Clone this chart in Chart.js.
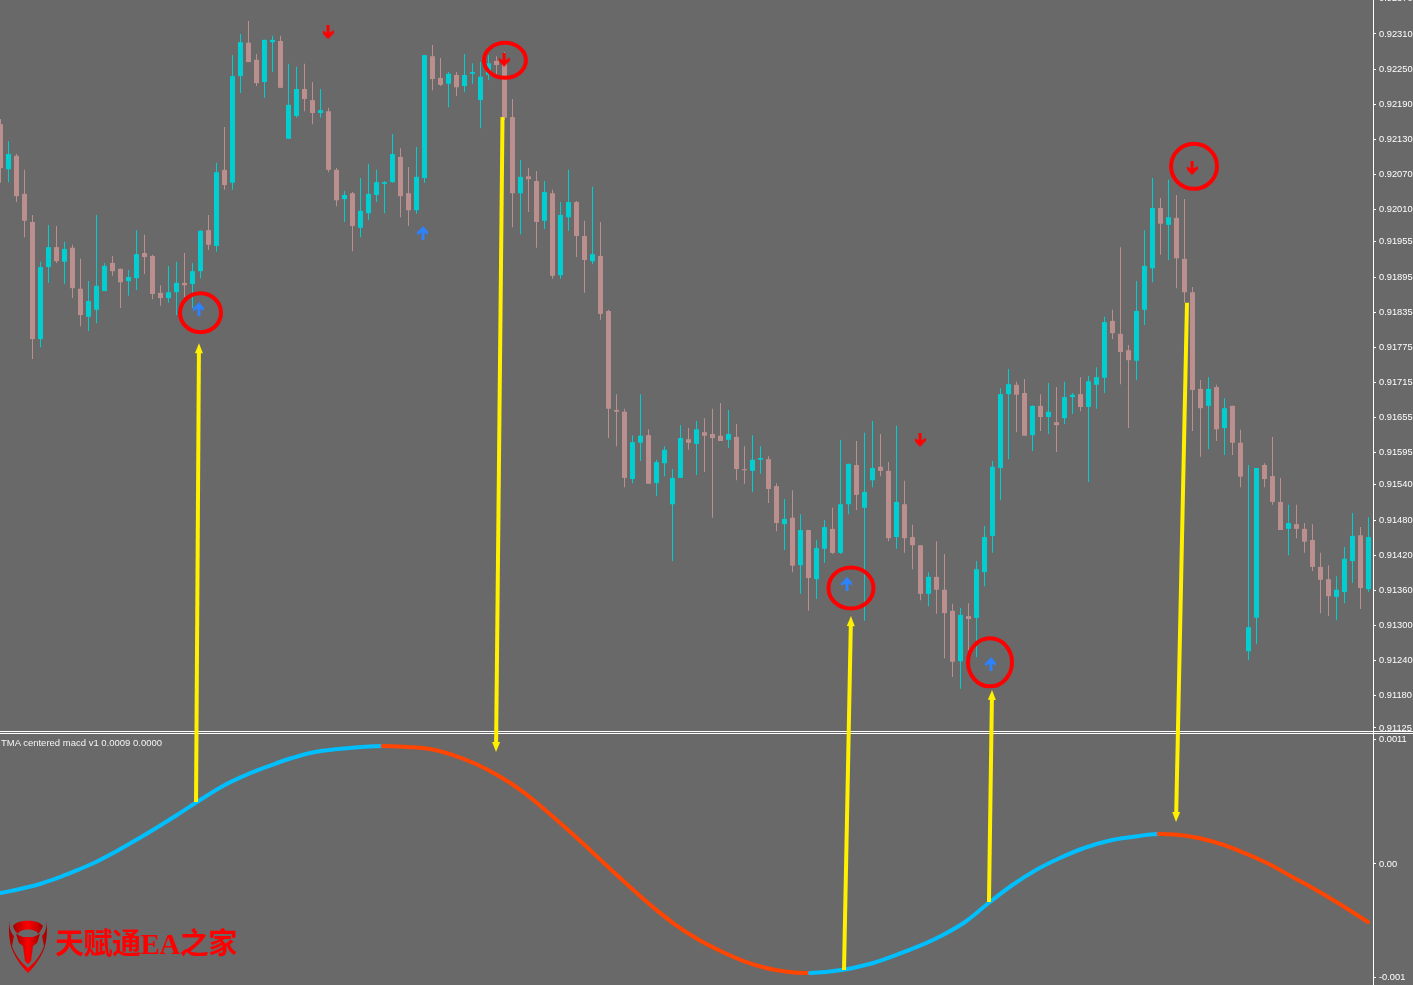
<!DOCTYPE html>
<html lang="zh-CN">
<head>
    <meta charset="UTF-8">
    <title>TMA centered macd</title>
    <script src="https://cdn.jsdelivr.net/npm/chart.js"></script>
    <style>
        html, body { margin: 0; padding: 0; background: #696969; overflow: hidden; }
        #wrap { position: relative; width: 1413px; height: 985px; }
        #indicatorName {
            position: absolute; left: 1px; top: 737px; color: #f4f4f4; white-space: nowrap;
            font: 9.5px "Liberation Sans", sans-serif;
        }
        #brand {
            position: absolute; left: 55px; top: 920px; color: #ff0000; white-space: nowrap;
            font: bold 29px "Liberation Serif", "Noto Sans CJK SC", serif; letter-spacing: -0.5px;
        }
        #logo { position: absolute; left: 7px; top: 915px; }
    </style>
</head>
<body>
    <div id="wrap">
        <canvas id="chart" width="1413" height="985"></canvas>
        <div id="indicatorName">TMA centered macd v1 0.0009 0.0000</div>
        <svg id="logo" width="44" height="60" viewBox="0 0 44 60">
            <defs>
                <linearGradient id="redFade" x1="0" y1="0" x2="1" y2="0">
                    <stop offset="0" stop-color="#a80000"/>
                    <stop offset="0.5" stop-color="#ff0000"/>
                    <stop offset="1" stop-color="#a80000"/>
                </linearGradient>
            </defs>
            <path d="M3 2 C1 12 2 26 5 34 C9 44 15 52 21 58 C27 52 33 44 37 34 C40 26 41 12 39 2 C41 12 38 18 35 21 L37 31 C33 42 27 48 21 53 C15 48 9 42 5 31 L7 21 C4 18 1 12 3 2 Z" fill="url(#redFade)"/>
            <path d="M6 11 C10 4 32 4 36 11 C34 15 33 17 31 19 C30 13 12 13 11 19 C9 17 7 15 6 11 Z" fill="url(#redFade)"/>
            <path d="M9 19 L16 22 L26 22 L33 19 L30 28 L26 31 L24 46 L21 49 L18 46 L16 31 L12 28 Z" fill="url(#redFade)"/>
        </svg>
        <div id="brand">天赋通EA之家</div>
    </div>

    <script>
        // Candles, oldest first
        const opens = [
            0.92156,0.92079,0.92102,0.92037,0.91989,0.91789,0.91912,0.91946,0.91921,0.91945,
            0.91875,0.91827,0.91839,0.91871,0.91919,0.91909,0.91888,0.91893,0.91936,0.91931,
            0.91868,0.91859,0.91869,0.91885,0.91883,0.91905,0.91975,0.91948,0.92078,0.92056,
            0.92238,0.92295,0.92266,0.92228,0.92296,0.92298,0.92131,0.92170,0.92216,0.92197,
            0.92175,0.92178,0.92078,0.92028,0.92038,0.91979,0.92004,0.92035,0.92054,0.92057,
            0.92100,0.92038,0.92009,0.92064,0.92272,0.92235,0.92225,0.92240,0.92221,0.92242,
            0.92197,0.92240,0.92264,0.92262,0.92168,0.92038,0.92067,0.92059,0.91991,0.92038,
            0.91898,0.91997,0.92023,0.91965,0.91922,0.91931,0.91837,0.91668,0.91665,0.91550,
            0.91612,0.91625,0.91543,0.91577,0.91507,0.91552,0.91618,0.91610,0.91630,0.91627,
            0.91624,0.91617,0.91622,0.91567,0.91564,0.91583,0.91584,0.91538,0.91473,0.91484,
            0.91403,0.91463,0.91379,0.91431,0.91465,0.91424,0.91507,0.91574,0.91501,0.91548,
            0.91571,0.91564,0.91451,0.91507,0.91451,0.91437,0.91354,0.91383,0.91361,0.91325,
            0.91239,0.91316,0.91313,0.91391,0.91453,0.91569,0.91695,0.91711,0.91697,0.91625,
            0.91675,0.91656,0.91647,0.91654,0.91690,0.91695,0.91673,0.91711,0.91723,0.91820,
            0.91798,0.91770,0.91752,0.91839,0.91910,0.92013,0.91984,0.91996,0.91926,0.91869,
            0.91704,0.91675,0.91707,0.91637,0.91675,0.91612,0.91256,0.91313,0.91574,0.91555,
            0.91511,0.91465,0.91473,0.91465,0.91446,0.91400,0.91379,0.91349,0.91357,0.91410,
            0.91454,0.91362
        ];
        const highs = [
            0.92165,0.92127,0.92105,0.92078,0.92001,0.91921,0.91984,0.91982,0.91955,0.91950,
            0.91926,0.91888,0.92001,0.91919,0.91931,0.91909,0.91907,0.91975,0.91967,0.91933,
            0.91881,0.91914,0.91921,0.91936,0.91919,0.91975,0.92001,0.92090,0.92151,0.92274,
            0.92310,0.92332,0.92276,0.92300,0.92307,0.92307,0.92259,0.92254,0.92259,0.92228,
            0.92216,0.92184,0.92081,0.92042,0.92040,0.92064,0.92088,0.92078,0.92059,0.92139,
            0.92115,0.92083,0.92117,0.92274,0.92291,0.92269,0.92245,0.92245,0.92276,0.92260,
            0.92262,0.92274,0.92272,0.92279,0.92199,0.92095,0.92081,0.92076,0.92059,0.92044,
            0.92023,0.92078,0.92025,0.91991,0.92049,0.91989,0.91839,0.91695,0.91670,0.91625,
            0.91695,0.91635,0.91583,0.91606,0.91567,0.91642,0.91637,0.91649,0.91654,0.91670,
            0.91680,0.91668,0.91644,0.91606,0.91625,0.91606,0.91589,0.91543,0.91516,0.91531,
            0.91490,0.91463,0.91446,0.91480,0.91501,0.91617,0.91576,0.91615,0.91629,0.91649,
            0.91627,0.91579,0.91641,0.91547,0.91472,0.91437,0.91391,0.91444,0.91422,0.91337,
            0.91330,0.91338,0.91410,0.91470,0.91581,0.91705,0.91738,0.91716,0.91721,0.91676,
            0.91695,0.91714,0.91707,0.91716,0.91697,0.91724,0.91726,0.91741,0.91827,0.91839,
            0.91946,0.91779,0.91888,0.91975,0.92064,0.92030,0.92061,0.92035,0.92028,0.91878,
            0.91719,0.91724,0.91711,0.91688,0.91675,0.91634,0.91574,0.91569,0.91577,0.91622,
            0.91552,0.91506,0.91506,0.91475,0.91473,0.91424,0.91403,0.91384,0.91434,0.91492,
            0.91468,0.91485
        ];
        const lows = [
            0.92056,0.92057,0.92023,0.91963,0.91755,0.91775,0.91885,0.91919,0.91883,0.91859,
            0.91811,0.91803,0.91816,0.91871,0.91897,0.91842,0.91863,0.91873,0.91900,0.91857,
            0.91846,0.91851,0.91830,0.91861,0.91842,0.91893,0.91941,0.91938,0.92044,0.92044,
            0.92209,0.92262,0.92221,0.92201,0.92245,0.92218,0.92131,0.92167,0.92178,0.92156,
            0.92167,0.92074,0.92016,0.91989,0.91939,0.91963,0.91992,0.92023,0.92004,0.92056,
            0.91997,0.91982,0.92003,0.92056,0.92214,0.92221,0.92185,0.92204,0.92211,0.92225,
            0.92149,0.92231,0.92240,0.92163,0.91980,0.91968,0.92006,0.91945,0.91977,0.91892,
            0.91892,0.91974,0.91929,0.91868,0.91917,0.91822,0.91620,0.91606,0.91536,0.91543,
            0.91581,0.91542,0.91521,0.91555,0.91410,0.91552,0.91600,0.91557,0.91562,0.91484,
            0.91615,0.91603,0.91548,0.91542,0.91528,0.91559,0.91509,0.91461,0.91429,0.91391,
            0.91354,0.91325,0.91345,0.91407,0.91422,0.91422,0.91490,0.91497,0.91308,0.91536,
            0.91555,0.91444,0.91431,0.91424,0.91396,0.91343,0.91333,0.91320,0.91244,0.91212,
            0.91192,0.91258,0.91246,0.91367,0.91424,0.91514,0.91584,0.91630,0.91624,0.91598,
            0.91632,0.91627,0.91596,0.91644,0.91661,0.91666,0.91545,0.91670,0.91697,0.91789,
            0.91712,0.91637,0.91719,0.91813,0.91886,0.91933,0.91924,0.91876,0.91851,0.91632,
            0.91588,0.91601,0.91615,0.91591,0.91591,0.91536,0.91241,0.91268,0.91536,0.91506,
            0.91463,0.91420,0.91449,0.91424,0.91393,0.91321,0.91316,0.91309,0.91338,0.91373,
            0.91328,0.91357
        ];
        const closes = [
            0.92081,0.92105,0.92033,0.91991,0.91789,0.91912,0.91946,0.91922,0.91943,0.91876,
            0.91830,0.91854,0.91880,0.91914,0.91905,0.91886,0.91895,0.91934,0.91929,0.91866,
            0.91859,0.91869,0.91885,0.91881,0.91905,0.91974,0.91950,0.92074,0.92052,0.92238,
            0.92296,0.92262,0.92226,0.92300,0.92300,0.92218,0.92189,0.92216,0.92199,0.92175,
            0.92180,0.92078,0.92026,0.92035,0.91982,0.92008,0.92037,0.92057,0.92057,0.92105,
            0.92033,0.92009,0.92066,0.92274,0.92233,0.92223,0.92242,0.92219,0.92240,0.92245,
            0.92237,0.92260,0.92257,0.92167,0.92038,0.92066,0.92062,0.91989,0.92040,0.91897,
            0.92001,0.92023,0.91965,0.91924,0.91934,0.91832,0.91670,0.91665,0.91552,0.91613,
            0.91624,0.91542,0.91579,0.91600,0.91552,0.91620,0.91612,0.91635,0.91624,0.91620,
            0.91615,0.91627,0.91567,0.91565,0.91583,0.91586,0.91533,0.91475,0.91482,0.91402,
            0.91463,0.91381,0.91432,0.91468,0.91424,0.91507,0.91576,0.91523,0.91528,0.91569,
            0.91564,0.91449,0.91511,0.91449,0.91437,0.91354,0.91383,0.91361,0.91321,0.91238,
            0.91318,0.91311,0.91396,0.91451,0.91571,0.91695,0.91712,0.91694,0.91624,0.91675,
            0.91656,0.91665,0.91642,0.91690,0.91694,0.91673,0.91717,0.91724,0.91818,0.91799,
            0.91767,0.91753,0.91837,0.91914,0.92013,0.91986,0.91997,0.91927,0.91869,0.91702,
            0.91671,0.91704,0.91635,0.91671,0.91612,0.91554,0.91297,0.91569,0.91550,0.91511,
            0.91463,0.91475,0.91465,0.91443,0.91400,0.91378,0.91350,0.91361,0.91414,0.91453,
            0.91364,0.91451
        ];

        // TMA centered macd
        const macdIndex = [
            0,2.44,4.94,7.44,9.94,12.06,14.56,17.06,19.56,22.06,
            24.56,27.81,30.69,33.56,36.44,39.31,42.19,45.06,47.75,50.81,
            53.69,56.56,59.44,62.31,65.19,67.94,70.81,73.69,75.69,78.56,
            81.39,84.25,87.12,90,92.88,95.69,98.56,101.19,105.14,108.62,
            111.56,114.56,117.56,120.56,123.51,126.5,129.44,132.44,135.44,138.44,
            141.44,144.77,148.31,151.31,154.31,158.31,161.26,164.24,167.19,170.94
        ];
        const macdValues = [
            -0.000256,-0.000220,-0.000176,-0.000115,-0.000044,0.000022,0.000115,0.000216,0.000322,0.000432,
            0.000546,0.000687,0.000784,0.000863,0.000934,0.000987,0.001013,0.001031,0.001040,0.001031,
            0.001013,0.000960,0.000881,0.000775,0.000643,0.000485,0.000308,0.000123,-0.000009,-0.000194,
            -0.000370,-0.000529,-0.000661,-0.000767,-0.000855,-0.000916,-0.000952,-0.000960,-0.000934,-0.000881,
            -0.000811,-0.000731,-0.000634,-0.000511,-0.000344,-0.000185,-0.000053,0.000053,0.000141,0.000203,
            0.000238,0.000264,0.000247,0.000203,0.000132,0.000009,-0.000106,-0.000220,-0.000344,-0.000511
        ];

        // Signal arrows
        const buyIndex = [24.81,52.81,105.81,123.81];
        const buyPrice = [0.91840,0.91970,0.91371,0.91234];
        const sellIndex = [40.94,62.94,114.94,148.94];
        const sellPrice = [0.92313,0.92266,0.91617,0.92081];

        // Hand drawn markup: circled signals and yellow arrows between the panes
        const ringIndex = [25,63.06,106.31,123.69,149.19];
        const ringPrice = [0.91834,0.92265,0.91364,0.91237,0.92084];
        const arrowFromIndex = [24.44,62.75,105.44,123.56,148.31];
        const arrowFromValue = [0.000546,0.92168,-0.000934,-0.000335,0.91851];
        const arrowFromAxis = ['macd','price','macd','macd','price'];
        const arrowToIndex = [24.81,61.94,106.31,123.94,146.94];
        const arrowToValue = [0.91782,0.000987,0.91316,0.91190,0.000370];
        const arrowToAxis = ['price','macd','price','price','macd'];

        // Axis labels
        const priceTicks = [
            0.92370,0.92310,0.92250,0.92190,0.92130,0.92070,0.92010,0.91955,0.91895,0.91835,0.91775,
            0.91715,0.91655,0.91595,0.91540,0.91480,0.91420,0.91360,0.91300,0.91240,0.91180,0.91125
        ];
        const macdTicks = [0.0011,0,-0.001];
        const macdTickLabels = ['0.0011','0.00','-0.001'];

        const BULL = '#00ced1', BEAR = '#bc8f8f';
        const candleColors = closes.map((c, i) => c >= opens[i] ? BULL : BEAR);

        function arrowGlyph(color, up) {
            const c = document.createElement('canvas');
            c.width = 11; c.height = 14;
            const g = c.getContext('2d');
            if (!up) { g.translate(0, 14); g.scale(1, -1); }
            g.fillStyle = color;
            g.beginPath();
            [[5.5,0],[11,6],[11,9],[7,6.5],[7,14],[4,14],[4,6.5],[0,9],[0,6]].forEach(p => g.lineTo(p[0], p[1]));
            g.closePath();
            g.fill();
            return c;
        }

        const markupPlugin = {
            id: 'markup',
            afterDraw(chart) {
                const ctx = chart.ctx, x = chart.scales.x;
                ctx.save();

                // separator between the panes
                ctx.fillStyle = '#ffffff';
                ctx.fillRect(0, 731, 1413, 1);
                ctx.fillRect(0, 733, 1413, 1);

                ctx.strokeStyle = '#ff0000';
                ctx.lineWidth = 4;
                const ringRx = [20.5,21,22.5,22,23], ringRy = [19.5,17.5,20.5,24,22.5];
                ringIndex.forEach((idx, i) => {
                    ctx.beginPath();
                    ctx.ellipse(x.getPixelForValue(idx), chart.scales.price.getPixelForValue(ringPrice[i]), ringRx[i], ringRy[i], 0, 0, Math.PI * 2);
                    ctx.stroke();
                });

                ctx.strokeStyle = ctx.fillStyle = '#fff000';
                ctx.lineWidth = 4;
                arrowFromIndex.forEach((idx, i) => {
                    const x1 = x.getPixelForValue(idx);
                    const y1 = chart.scales[arrowFromAxis[i]].getPixelForValue(arrowFromValue[i]);
                    const x2 = x.getPixelForValue(arrowToIndex[i]);
                    const y2 = chart.scales[arrowToAxis[i]].getPixelForValue(arrowToValue[i]);
                    const a = Math.atan2(y2 - y1, x2 - x1);
                    ctx.beginPath();
                    ctx.moveTo(x1, y1);
                    ctx.lineTo(x2 - 8 * Math.cos(a), y2 - 8 * Math.sin(a));
                    ctx.stroke();
                    ctx.beginPath();
                    ctx.moveTo(x2, y2);
                    ctx.lineTo(x2 - 10 * Math.cos(a) + 4 * Math.sin(a), y2 - 10 * Math.sin(a) - 4 * Math.cos(a));
                    ctx.lineTo(x2 - 10 * Math.cos(a) - 4 * Math.sin(a), y2 - 10 * Math.sin(a) + 4 * Math.cos(a));
                    ctx.closePath();
                    ctx.fill();
                });
                ctx.restore();
            }
        };

        const axisFont = { family: '"Liberation Sans", sans-serif', size: 9.3 };

        // the panes fill the whole height, so no room is kept for half a label
        function fitAxis(s) {
            s.width = 40;
            s.paddingTop = 0;
            s.paddingBottom = 0;
        }

        new Chart(document.getElementById('chart'), {
            type: 'bar',
            data: {
                datasets: [
                    {
                        label: 'Wicks', xAxisID: 'x', yAxisID: 'price', order: 4, grouped: false,
                        data: highs.map((h, i) => ({ x: i, y: [lows[i], h] })),
                        backgroundColor: candleColors, maxBarThickness: 1,
                        barPercentage: 1, categoryPercentage: 1, inflateAmount: 0
                    },
                    {
                        label: 'Bodies', xAxisID: 'x', yAxisID: 'price', order: 3, grouped: false,
                        data: opens.map((o, i) => ({ x: i, y: [o, closes[i]] })),
                        backgroundColor: candleColors, maxBarThickness: 5,
                        barPercentage: 1, categoryPercentage: 1, inflateAmount: 0
                    },
                    {
                        type: 'line', label: 'TMA centered macd', xAxisID: 'x', yAxisID: 'macd', order: 2,
                        data: macdIndex.map((v, i) => ({ x: v, y: macdValues[i] })),
                        borderColor: '#00bfff', borderWidth: 4, pointRadius: 0, tension: 0.4,
                        borderCapStyle: 'round',
                        segment: {
                            // slope of the line picks the colour
                            borderColor: c => c.p1.parsed.y >= c.p0.parsed.y ? '#00bfff' : '#ff4500'
                        }
                    },
                    {
                        type: 'scatter', label: 'Buy', xAxisID: 'x', yAxisID: 'price', order: 1,
                        data: buyIndex.map((v, i) => ({ x: v, y: buyPrice[i] })),
                        pointStyle: arrowGlyph('#2b83ff', true)
                    },
                    {
                        type: 'scatter', label: 'Sell', xAxisID: 'x', yAxisID: 'price', order: 1,
                        data: sellIndex.map((v, i) => ({ x: v, y: sellPrice[i] })),
                        pointStyle: arrowGlyph('#ff0000', false)
                    }
                ]
            },
            options: {
                responsive: false,
                animation: false,
                layout: { padding: 0, autoPadding: false },
                plugins: { legend: { display: false }, title: { display: false }, tooltip: { enabled: false } },
                scales: {
                    x: { type: 'linear', display: false, offset: false, min: -0.0625, max: 171.5625 },
                    price: {
                        type: 'linear', position: 'right', stack: 'panes', stackWeight: 733,
                        min: 0.911164, max: 0.92368,
                        border: { display: true, color: '#ffffff' },
                        grid: { drawOnChartArea: false, drawTicks: true, tickLength: 3, color: '#ffffff' },
                        ticks: {
                            autoSkip: false, padding: 3, color: '#ffffff', font: axisFont,
                            callback: v => v.toFixed(5)
                        },
                        afterBuildTicks: s => { s.ticks = priceTicks.map(v => ({ value: v })); },
                        afterFit: fitAxis
                    },
                    macd: {
                        type: 'linear', position: 'right', stack: 'panes', stackWeight: 252,
                        min: -0.0010661, max: 0.0011542,
                        border: { display: true, color: '#ffffff' },
                        grid: { drawOnChartArea: false, drawTicks: true, tickLength: 3, color: '#ffffff' },
                        ticks: {
                            autoSkip: false, padding: 3, color: '#ffffff', font: axisFont,
                            callback: v => macdTickLabels[macdTicks.indexOf(v)]
                        },
                        afterBuildTicks: s => { s.ticks = macdTicks.map(v => ({ value: v })); },
                        afterFit: fitAxis
                    }
                }
            },
            plugins: [markupPlugin]
        });
    </script>
</body>
</html>
